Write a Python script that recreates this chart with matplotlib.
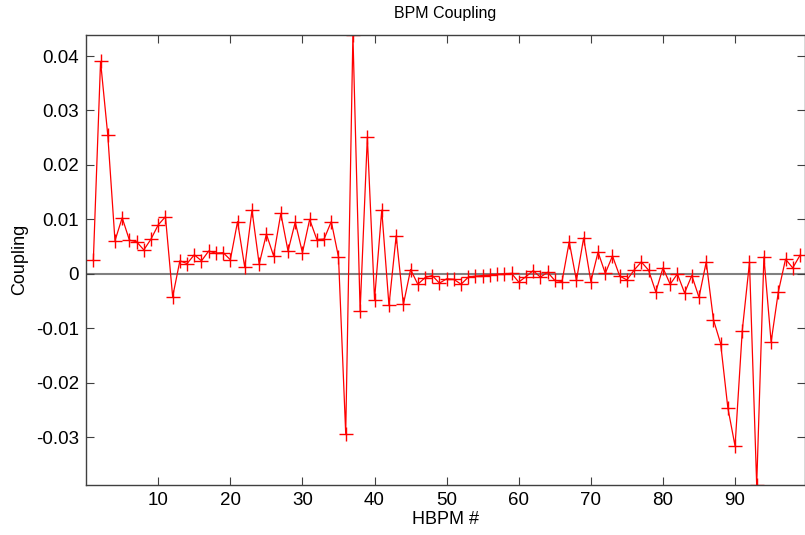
import numpy as np
import matplotlib
matplotlib.use("Agg")
import matplotlib.pyplot as plt
from matplotlib.ticker import FuncFormatter

plt.rcParams['font.family'] = ['Liberation Sans', 'DejaVu Sans']

# coupling per horizontal BPM
bpm = list(range(1, 100))
coupling = [
    0.0025, 0.0390, 0.0255, 0.0061, 0.0103, 0.0062, 0.0059, 0.0044, 0.0064, 0.0090,
    0.0105, -0.0042, 0.0024, 0.0019, 0.0035, 0.0024, 0.0042, 0.0038, 0.0039, 0.0026,
    0.0096, 0.0012, 0.0117, 0.0018, 0.0073, 0.0033, 0.0111, 0.0042, 0.0095, 0.0039,
    0.0100, 0.0063, 0.0064, 0.0096, 0.0031, -0.0293, 0.0439, -0.0068, 0.0251, -0.0047,
    0.0117, -0.0058, 0.0070, -0.0056, 0.0008, -0.0019, -0.0007, -0.0003, -0.0017, -0.0009,
    -0.0010, -0.0019, -0.0006, -0.0004, -0.0003, -0.0002, -0.0001, 0.0000, 0.0001, -0.0015,
    -0.0005, 0.0006, -0.0006, 0.0003, -0.0012, -0.0014, 0.0059, -0.0012, 0.0066, -0.0014,
    0.0040, 0.0001, 0.0033, -0.0004, -0.0011, 0.0007, 0.0022, 0.0007, -0.0033, 0.0011,
    -0.0019, 0.0000, -0.0035, -0.0003, -0.0043, 0.0022, -0.0084, -0.0128, -0.0246, -0.0316,
    -0.0104, 0.0021, -0.0388, 0.0031, -0.0125, -0.0033, 0.0027, 0.0011, 0.0034,
]
xticks = [10, 20, 30, 40, 50, 60, 70, 80, 90]
yticks = [-0.03, -0.02, -0.01, 0, 0.01, 0.02, 0.03, 0.04]

fig = plt.figure(figsize=(8.05, 5.35), dpi=100)
ax = fig.add_axes([0.107, 0.094, 0.893, 0.841])

ax.axhline(0, color='#808080', lw=1.5, zorder=1)
ax.plot(bpm, coupling, color='red', lw=0.9, marker='+', markersize=10,
        markeredgewidth=1.0, zorder=2)

ax.set_xlim(0, 99.7)
ax.set_ylim(-0.0387, 0.0439)
ax.set_xticks(xticks)
ax.set_yticks(yticks)
ax.yaxis.set_major_formatter(FuncFormatter(lambda v, p: '0' if abs(v) < 1e-12 else ('%g' % v)))

for s in ax.spines.values():
    s.set_color('#404040')
    s.set_linewidth(1.0)
ax.tick_params(direction='in', top=True, right=True, length=6, width=0.8,
               color='#404040', labelsize=13.5, pad=5)

ax.set_title('BPM Coupling', fontsize=11.5, pad=12)
ax.set_xlabel('HBPM #', fontsize=13, labelpad=2)
ax.set_ylabel('Coupling', fontsize=13, labelpad=6)

fig.savefig('out.png', dpi=100)
